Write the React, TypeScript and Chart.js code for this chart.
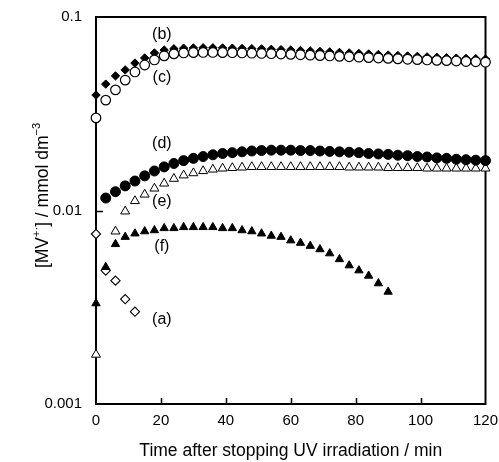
import React, { useEffect, useRef } from "react";
import { Chart, registerables } from "chart.js";

Chart.register(...registerables);

const FONT = '"Liberation Sans", Arial, Helvetica, sans-serif';

// ---- data ----
const timeA = [0, 3, 6, 9, 12];
const valueA = [0.00756, 0.00489, 0.00434, 0.00348, 0.003];

const timeBC = [0, 3, 6, 9, 12, 15, 18, 21, 24, 27, 30, 33, 36, 39, 42, 45, 48, 51, 54, 57, 60, 63, 66, 69, 72, 75, 78, 81, 84, 87, 90, 93, 96, 99, 102, 105, 108, 111, 114, 117, 120];
const valueB = [0.0395, 0.045, 0.0496, 0.0533, 0.0578, 0.0614, 0.0652, 0.0675, 0.0685, 0.069, 0.0692, 0.0693, 0.0693, 0.0692, 0.069, 0.0688, 0.0686, 0.0684, 0.0681, 0.0678, 0.0675, 0.0671, 0.0668, 0.0664, 0.066, 0.0656, 0.0652, 0.0648, 0.0644, 0.064, 0.0636, 0.0632, 0.0629, 0.0626, 0.0622, 0.0619, 0.0616, 0.0613, 0.0611, 0.0609, 0.0606];
const valueC = [0.0301, 0.0372, 0.042, 0.0472, 0.052, 0.0565, 0.06, 0.063, 0.0645, 0.0652, 0.0655, 0.0656, 0.0656, 0.0655, 0.0654, 0.0652, 0.065, 0.0648, 0.0646, 0.0644, 0.0641, 0.0638, 0.0635, 0.0632, 0.0629, 0.0626, 0.0623, 0.062, 0.0617, 0.0614, 0.0611, 0.0608, 0.0605, 0.0602, 0.06, 0.0597, 0.0595, 0.0592, 0.0589, 0.0587, 0.0584];

const timeD = [3, 6, 9, 12, 15, 18, 21, 24, 27, 30, 33, 36, 39, 42, 45, 48, 51, 54, 57, 60, 63, 66, 69, 72, 75, 78, 81, 84, 87, 90, 93, 96, 99, 102, 105, 108, 111, 114, 117, 120];
const valueD = [0.0116, 0.0125, 0.0134, 0.0142, 0.0151, 0.016, 0.0168, 0.0175, 0.0181, 0.0186, 0.019, 0.0194, 0.0197, 0.0199, 0.0201, 0.0203, 0.0204, 0.0205, 0.0205, 0.0205, 0.0204, 0.0204, 0.0203, 0.0202, 0.0201, 0.02, 0.0199, 0.0197, 0.0196, 0.0195, 0.0193, 0.0192, 0.019, 0.0189, 0.0187, 0.0186, 0.0184, 0.0183, 0.0182, 0.0181];

const timeE = [0, 6, 9, 12, 15, 18, 21, 24, 27, 30, 33, 36, 39, 42, 45, 48, 51, 54, 57, 60, 63, 66, 69, 72, 75, 78, 81, 84, 87, 90, 93, 96, 99, 102, 105, 108, 111, 114, 117, 120];
const valueE = [0.0018, 0.0078, 0.0099, 0.0112, 0.0121, 0.013, 0.0138, 0.0146, 0.0152, 0.0156, 0.016, 0.0163, 0.0165, 0.0166, 0.0167, 0.0168, 0.0168, 0.0168, 0.0168, 0.0168, 0.0168, 0.0168, 0.0168, 0.0168, 0.0168, 0.0167, 0.0167, 0.0167, 0.0167, 0.0166, 0.0166, 0.0166, 0.0166, 0.0165, 0.0165, 0.0165, 0.0165, 0.0165, 0.0165, 0.0165];

const timeF = [0, 3, 6, 9, 12, 15, 18, 21, 24, 27, 30, 33, 36, 39, 42, 45, 48, 51, 54, 57, 60, 63, 66, 69, 72, 75, 78, 81, 84, 87, 90];
const valueF = [0.00331, 0.0051, 0.0067, 0.0073, 0.0076, 0.0078, 0.0079, 0.0081, 0.0081, 0.0082, 0.0082, 0.0082, 0.0082, 0.0081, 0.0081, 0.0079, 0.0078, 0.0076, 0.0074, 0.0073, 0.007, 0.0068, 0.00656, 0.0063, 0.006, 0.0056, 0.0052, 0.0049, 0.0046, 0.0042, 0.0038];

const xTickStep = 20;
const xMin = 0;
const xMax = 120;
const yTickValues = [0.001, 0.01, 0.1];
const yTickLabels = ["0.001", "0.01", "0.1"];

const seriesLabels = ["(a)", "(b)", "(c)", "(d)", "(e)", "(f)"];
const labelTimes = [20.3, 20.3, 20.3, 20.3, 20.3, 20.3];
const labelValues = [0.00272, 0.0807, 0.0484, 0.0223, 0.0111, 0.00648];

const xTitle = "Time after stopping UV irradiation / min";
// y title pieces: [text, superscript?]
const yTitleParts: [string, boolean][] = [
  ["[MV", false],
  ["+\u00B7", true],
  ["] / mmol dm", false],
  ["\u22123", true],
];

const pts = (t: number[], v: number[]) => t.map((x, i) => ({ x, y: v[i] }));

const framePlugin = {
  id: "frameTicks",
  beforeDatasetsDraw(chart: any) {
    const { ctx, chartArea } = chart;
    const { left, right, top, bottom } = chartArea;
    ctx.save();
    ctx.strokeStyle = "#000";
    ctx.lineWidth = 2;
    ctx.strokeRect(left, top, right - left, bottom - top);
    const xs = chart.scales.x;
    const ys = chart.scales.y;
    ctx.lineWidth = 1.5;
    ctx.beginPath();
    xs.ticks.forEach((t: any) => {
      if (t.value <= xs.min || t.value >= xs.max) return;
      const px = Math.round(xs.getPixelForValue(t.value)) + 0.5;
      ctx.moveTo(px, bottom);
      ctx.lineTo(px, bottom - 6);
    });
    ys.ticks.forEach((t: any) => {
      if (t.value <= ys.min || t.value >= ys.max) return;
      const py = Math.round(ys.getPixelForValue(t.value)) + 0.5;
      ctx.moveTo(left, py);
      ctx.lineTo(left + 7, py);
    });
    ctx.stroke();
    ctx.restore();
  },
  afterDatasetsDraw(chart: any) {
    const { ctx, chartArea } = chart;
    const xs = chart.scales.x;
    const ys = chart.scales.y;
    ctx.save();
    ctx.fillStyle = "#000";
    ctx.font = `16px ${FONT}`;
    ctx.textAlign = "center";
    ctx.textBaseline = "middle";
    seriesLabels.forEach((s, i) => {
      ctx.fillText(s, xs.getPixelForValue(labelTimes[i]), ys.getPixelForValue(labelValues[i]));
    });
    // y axis title with superscripts
    const big = `17.5px ${FONT}`;
    const small = `11px ${FONT}`;
    let total = 0;
    const widths = yTitleParts.map(([t, sup]) => {
      ctx.font = sup ? small : big;
      const w = ctx.measureText(t).width;
      total += w;
      return w;
    });
    const cx = 43;
    const cy = (chartArea.top + chartArea.bottom) / 2 - 15;
    ctx.translate(cx, cy);
    ctx.rotate(-Math.PI / 2);
    ctx.textAlign = "left";
    let x = -total / 2;
    yTitleParts.forEach(([t, sup], i) => {
      ctx.font = sup ? small : big;
      ctx.fillText(t, x, sup ? -6 : 0);
      x += widths[i];
    });
    ctx.restore();
  },
};

export default function App() {
  const ref = useRef<HTMLCanvasElement | null>(null);

  useEffect(() => {
    if (!ref.current) return;
    Chart.defaults.font.family = FONT;
    Chart.defaults.color = "#000";
    const chart = new Chart(ref.current, {
      type: "scatter",
      data: {
        datasets: [
          {
            label: "(c)",
            data: pts(timeBC, valueC),
            pointStyle: "circle",
            pointRadius: 4.8,
            backgroundColor: "#fff",
            borderColor: "#000",
            borderWidth: 1.2,
            clip: false,
          },
          {
            label: "(b)",
            data: pts(timeBC, valueB),
            pointStyle: "rectRot",
            pointRadius: 4.2,
            backgroundColor: "#000",
            borderColor: "#000",
            borderWidth: 1,
            clip: false,
          },
          {
            label: "(d)",
            data: pts(timeD, valueD),
            pointStyle: "circle",
            pointRadius: 5,
            backgroundColor: "#000",
            borderColor: "#000",
            borderWidth: 1,
            clip: false,
          },
          {
            label: "(e)",
            data: pts(timeE, valueE),
            pointStyle: "triangle",
            pointRadius: 5.2,
            backgroundColor: "#fff",
            borderColor: "#000",
            borderWidth: 1,
            clip: false,
          },
          {
            label: "(f)",
            data: pts(timeF, valueF),
            pointStyle: "triangle",
            pointRadius: 4.8,
            backgroundColor: "#000",
            borderColor: "#000",
            borderWidth: 1,
            clip: false,
          },
          {
            label: "(a)",
            data: pts(timeA, valueA),
            pointStyle: "rectRot",
            pointRadius: 4.6,
            backgroundColor: "#fff",
            borderColor: "#000",
            borderWidth: 1.1,
            clip: false,
          },
        ],
      },
      options: {
        responsive: false,
        animation: false,
        devicePixelRatio: 1,
        events: [],
        layout: { padding: { left: 0, top: 17, right: 13.5, bottom: 0 } },
        plugins: { legend: { display: false }, tooltip: { enabled: false } },
        scales: {
          x: {
            type: "linear",
            min: xMin,
            max: xMax,
            ticks: {
              stepSize: xTickStep,
              font: { size: 15, family: FONT },
              color: "#000",
              padding: 8,
              maxRotation: 0,
            },
            grid: { drawOnChartArea: false, drawTicks: false },
            border: { display: true, color: "#000", width: 2 },
            title: {
              display: true,
              text: xTitle,
              font: { size: 17.5, family: FONT },
              color: "#000",
              padding: { top: 0, bottom: 0.5 },
            },
            afterFit: (s: any) => {
              s.height = 58;
              s.paddingLeft = 0;
              s.paddingRight = 0;
            },
          },
          y: {
            type: "logarithmic",
            min: yTickValues[0],
            max: yTickValues[yTickValues.length - 1],
            afterBuildTicks: (s: any) => {
              s.ticks = yTickValues.map((v) => ({ value: v }));
            },
            ticks: {
              autoSkip: false,
              font: { size: 15, family: FONT },
              color: "#000",
              padding: 14,
              callback: (v: any) => {
                const i = yTickValues.indexOf(Number(v));
                return i >= 0 ? yTickLabels[i] : "";
              },
            },
            grid: { drawOnChartArea: false, drawTicks: false },
            border: { display: true, color: "#000", width: 2 },
            afterFit: (s: any) => {
              s.width = 96;
              s.paddingTop = 0;
              s.paddingBottom = 0;
            },
          },
        },
      },
      plugins: [framePlugin],
    });
    return () => chart.destroy();
  }, []);

  return (
    <div style={{ position: "fixed", left: 0, top: 0, width: 499, height: 462, background: "#fff" }}>
      <canvas ref={ref} width={499} height={462} style={{ width: 499, height: 462, display: "block" }} />
    </div>
  );
}
